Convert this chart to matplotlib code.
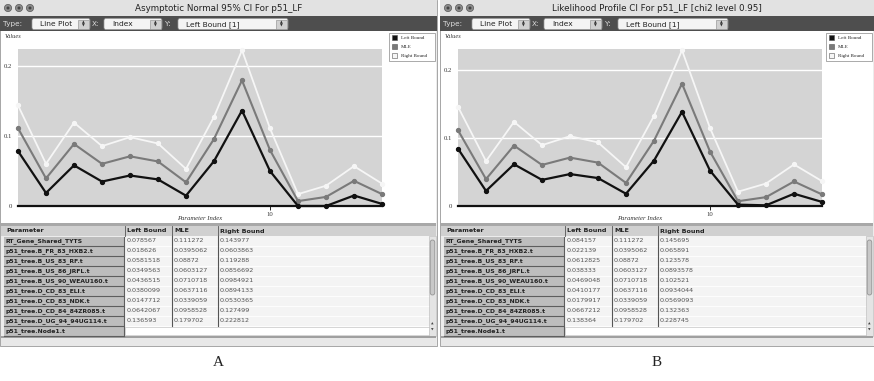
import numpy as np
import matplotlib.pyplot as plt
from matplotlib.patches import Rectangle, FancyBboxPatch, Circle

W, H = 874, 381

# ---- data ----
param_names = [
    "RT_Gene_Shared_TYTS",
    "p51_tree.B_FR_83_HXB2.t",
    "p51_tree.B_US_83_RF.t",
    "p51_tree.B_US_86_JRFL.t",
    "p51_tree.B_US_90_WEAU160.t",
    "p51_tree.D_CD_83_ELI.t",
    "p51_tree.D_CD_83_NDK.t",
    "p51_tree.D_CD_84_84ZR085.t",
    "p51_tree.D_UG_94_94UG114.t",
    "p51_tree.Node1.t",
]
param_index = list(range(1, 15))

mle = [0.111272, 0.0395062, 0.08872, 0.0603127, 0.0710718, 0.0637116, 0.0339059,
       0.0958528, 0.179702, 0.080, 0.007, 0.013, 0.036, 0.017]

left_a = [0.078567, 0.018626, 0.0581518, 0.0349563, 0.0436515, 0.0380099, 0.0147712,
          0.0642067, 0.136593, 0.050, 0.0, 0.0, 0.015, 0.003]
right_a = [0.143977, 0.0603863, 0.119288, 0.0856692, 0.0984921, 0.0894133, 0.0530365,
           0.127499, 0.222812, 0.111, 0.017, 0.029, 0.057, 0.032]

left_b = [0.084157, 0.022139, 0.0612825, 0.038333, 0.0469048, 0.0410177, 0.0179917,
          0.0667212, 0.138364, 0.052, 0.002, 0.001, 0.018, 0.006]
right_b = [0.145695, 0.065891, 0.123578, 0.0893578, 0.102521, 0.0934044, 0.0569093,
           0.132363, 0.228745, 0.1145, 0.021, 0.033, 0.061, 0.0365]

n_table_rows = 9  # rows with values in the visible table
titles = ["Asymptotic Normal 95% CI For p51_LF",
          "Likelihood Profile CI For p51_LF [chi2 level 0.95]"]
panel_labels = ["A", "B"]
series_names = ["Left Bound", "MLE", "Right Bound"]
col_headers = ["Parameter", "Left Bound", "MLE", "Right Bound"]
popup_texts = ["Line Plot", "Index", "Left Bound [1]"]

UI = "DejaVu Sans"
SERIF = "Liberation Serif"

fig = plt.figure(figsize=(W / 100, H / 100), dpi=100)
fig.patch.set_facecolor("white")
bg = fig.add_axes([0, 0, 1, 1])
bg.set_xlim(0, W)
bg.set_ylim(H, 0)
bg.axis("off")


def rect(x, y, w, h, fc, ec="none", lw=0.6, z=1):
    bg.add_patch(Rectangle((x, y), w, h, facecolor=fc, edgecolor=ec, lw=lw, zorder=z))


def popup(x, y, w, h, text):
    bg.add_patch(FancyBboxPatch((x, y), w, h, boxstyle="round,pad=0,rounding_size=2",
                                facecolor="#f4f4f4", edgecolor="#999999", lw=0.5, zorder=3))
    bg.text(x + 8, y + h / 2 + 0.5, text, fontsize=5.4, family=UI, color="#222222",
            va="center", ha="left", zorder=4)
    sx = x + w - 12
    rect(sx, y + 1, 11, h - 2, "#d0d0d0", "#888888", 0.4, z=4)
    bg.text(sx + 5.5, y + h / 2 - 1.6, "\u25b2", fontsize=2.6, ha="center", va="center",
            color="#333333", zorder=5)
    bg.text(sx + 5.5, y + h / 2 + 1.8, "\u25bc", fontsize=2.6, ha="center", va="center",
            color="#333333", zorder=5)


def draw_window(x0, w, title, left, right, label):
    # window body
    rect(x0, 0, w, 346, "#ececec", "#9a9a9a", 0.6, z=0)
    # title bar
    rect(x0, 0, w, 16, "#e2e2e2", "none", z=1)
    for k in range(3):
        bg.add_patch(Circle((x0 + 8 + 11 * k, 8), 3.6, facecolor="#8c8c8c",
                            edgecolor="#555555", lw=0.5, zorder=2))
        bg.add_patch(Circle((x0 + 8 + 11 * k, 8), 1.5, facecolor="#444444", zorder=3))
    bg.text(x0 + w / 2, 8.5, title, fontsize=6.3, family=UI, ha="center", va="center",
            color="#222222", zorder=2)
    # toolbar
    rect(x0, 16, w, 15, "#4e4e4e", z=1)
    bg.text(x0 + 3, 24, "Type:", fontsize=5.2, family=UI, color="#dddddd", va="center", zorder=2)
    bg.text(x0 + 92, 24, "X:", fontsize=5.2, family=UI, color="#dddddd", va="center", zorder=2)
    bg.text(x0 + 165, 24, "Y:", fontsize=5.2, family=UI, color="#dddddd", va="center", zorder=2)
    popup(x0 + 32, 18.5, 58, 11, popup_texts[0])
    popup(x0 + 104, 18.5, 58, 11, popup_texts[1])
    popup(x0 + 178, 18.5, 110, 11, popup_texts[2])
    # chart area background (white)
    rect(x0 + 1, 31, w - 2, 192, "white", z=1)
    bg.text(x0 + 5, 36, "Values", fontsize=4.6, family=SERIF, style="italic",
            color="#333333", va="center", zorder=2)
    bg.text(x0 + 200, 218, "Parameter Index", fontsize=4.8, family=SERIF, style="italic",
            color="#333333", ha="center", va="center", zorder=2)

    # plot axes
    px, py, pw, ph = x0 + 18, 49, 364, 157
    ax = fig.add_axes([px / W, 1 - (py + ph) / H, pw / W, ph / H])
    ax.set_facecolor("#d4d4d4")
    ax.set_xlim(param_index[0], param_index[-1])
    ax.set_ylim(0, max(right) * 1.008)
    for s in ax.spines.values():
        s.set_visible(False)
    ax.set_yticks([0, 0.1, 0.2])
    ax.set_yticklabels(["0", "0.1", "0.2"], family=SERIF, fontsize=4.8, color="#333333")
    ax.set_xticks([10])
    ax.set_xticklabels(["10"], family=SERIF, fontsize=4.8, color="#333333")
    ax.tick_params(axis="y", length=0, pad=4)
    ax.tick_params(axis="x", length=3, width=0.6, pad=1.5, direction="out")
    ax.grid(axis="y", color="white", lw=1.0)
    ax.set_axisbelow(True)
    ax.axhline(0, color="#111111", lw=1.6, zorder=2, clip_on=False)
    colors = ["#111111", "#7a7a7a", "#f6f6f6"]
    widths = [1.6, 1.5, 1.3]
    for vals, c, lw in zip([right, mle, left], colors[::-1], widths[::-1]):
        ax.plot(param_index, vals, color=c, lw=lw, marker="o", ms=2.8,
                clip_on=False, zorder=3)

    # legend box
    lx, ly = x0 + w - 48, 33
    rect(lx, ly, 46, 28, "white", "#888888", 0.5, z=3)
    for k, (nm, c) in enumerate(zip(series_names, colors)):
        yy = ly + 5 + 9 * k
        rect(lx + 3, yy - 2.6, 5, 5, c, "#555555", 0.4, z=4)
        bg.text(lx + 12, yy, nm, fontsize=3.6, family=SERIF, color="#222222",
                va="center", zorder=4)

    # table
    cols = [x0 + 4, x0 + 125, x0 + 172, x0 + 218, x0 + w - 8]
    rect(x0 + 1, 223, w - 2, 3, "#a8a8a8", z=1)
    rect(x0 + 1, 226, w - 2, 10, "#d0d0d0", z=1)
    for j, hd in enumerate(col_headers):
        bg.text(cols[j] + 2, 231, hd, fontsize=4.6, family=UI, weight="bold",
                color="#222222", va="center", zorder=3)
        if j > 0:
            bg.plot([cols[j], cols[j]], [226, 236], color="#555555", lw=0.6, zorder=3)
    rect(cols[1], 236, cols[4] - cols[1], 100, "#f4f4f4", z=1)
    columns = [left, mle, right]
    for i, name in enumerate(param_names):
        y = 236 + 10 * i
        rect(cols[0], y + 0.5, cols[1] - cols[0] - 1, 9, "#bdbdbd", z=2)
        bg.plot([cols[0], cols[1] - 1], [y + 9.5, y + 9.5], color="#5e5e5e", lw=0.8, zorder=3)
        bg.plot([cols[1] - 1, cols[1] - 1], [y + 0.5, y + 9.5], color="#5e5e5e", lw=0.8, zorder=3)
        bg.text(cols[0] + 2, y + 5, name, fontsize=4.4, family=UI, weight="bold",
                color="#222222", va="center", zorder=3)
        if i < n_table_rows:
            bg.plot([cols[1], cols[4]], [y + 10, y + 10], color="white", lw=0.6, zorder=2)
            for j, vals in enumerate(columns):
                bg.text(cols[j + 1] + 2, y + 5, f"{vals[i]:.6g}", fontsize=4.6, family=UI,
                        color="#555555", va="center", zorder=3)
        else:
            rect(cols[1], y + 1, cols[4] - cols[1], 8, "white", "#bbbbbb", 0.4, z=3)
    for j in (2, 3):
        bg.plot([cols[j], cols[j]], [236, 326], color="#555555", lw=0.8, zorder=3)
    # scrollbar
    rect(cols[4], 236, 7, 100, "#e4e4e4", "#bbbbbb", 0.4, z=2)
    bg.add_patch(FancyBboxPatch((cols[4] + 1.2, 240), 4.6, 55,
                                boxstyle="round,pad=0,rounding_size=2.2",
                                facecolor="#c8c8c8", edgecolor="#8a8a8a", lw=0.5, zorder=3))
    bg.text(cols[4] + 3.5, 324, "\u25b2", fontsize=2.4, ha="center", va="center", color="#444444", zorder=3)
    bg.text(cols[4] + 3.5, 330, "\u25bc", fontsize=2.4, ha="center", va="center", color="#444444", zorder=3)
    rect(x0 + 1, 336, w - 2, 2, "#a0a0a0", z=2)
    rect(x0 + 1, 338, w - 2, 8, "#e8e8e8", z=2)

    # panel caption
    bg.text(x0 + w / 2, 362, label, fontsize=11, family=SERIF, color="#222222",
            ha="center", va="center")


draw_window(0, 437, titles[0], left_a, right_a, panel_labels[0])
draw_window(440, 434, titles[1], left_b, right_b, panel_labels[1])

fig.savefig("out.png", dpi=100)
